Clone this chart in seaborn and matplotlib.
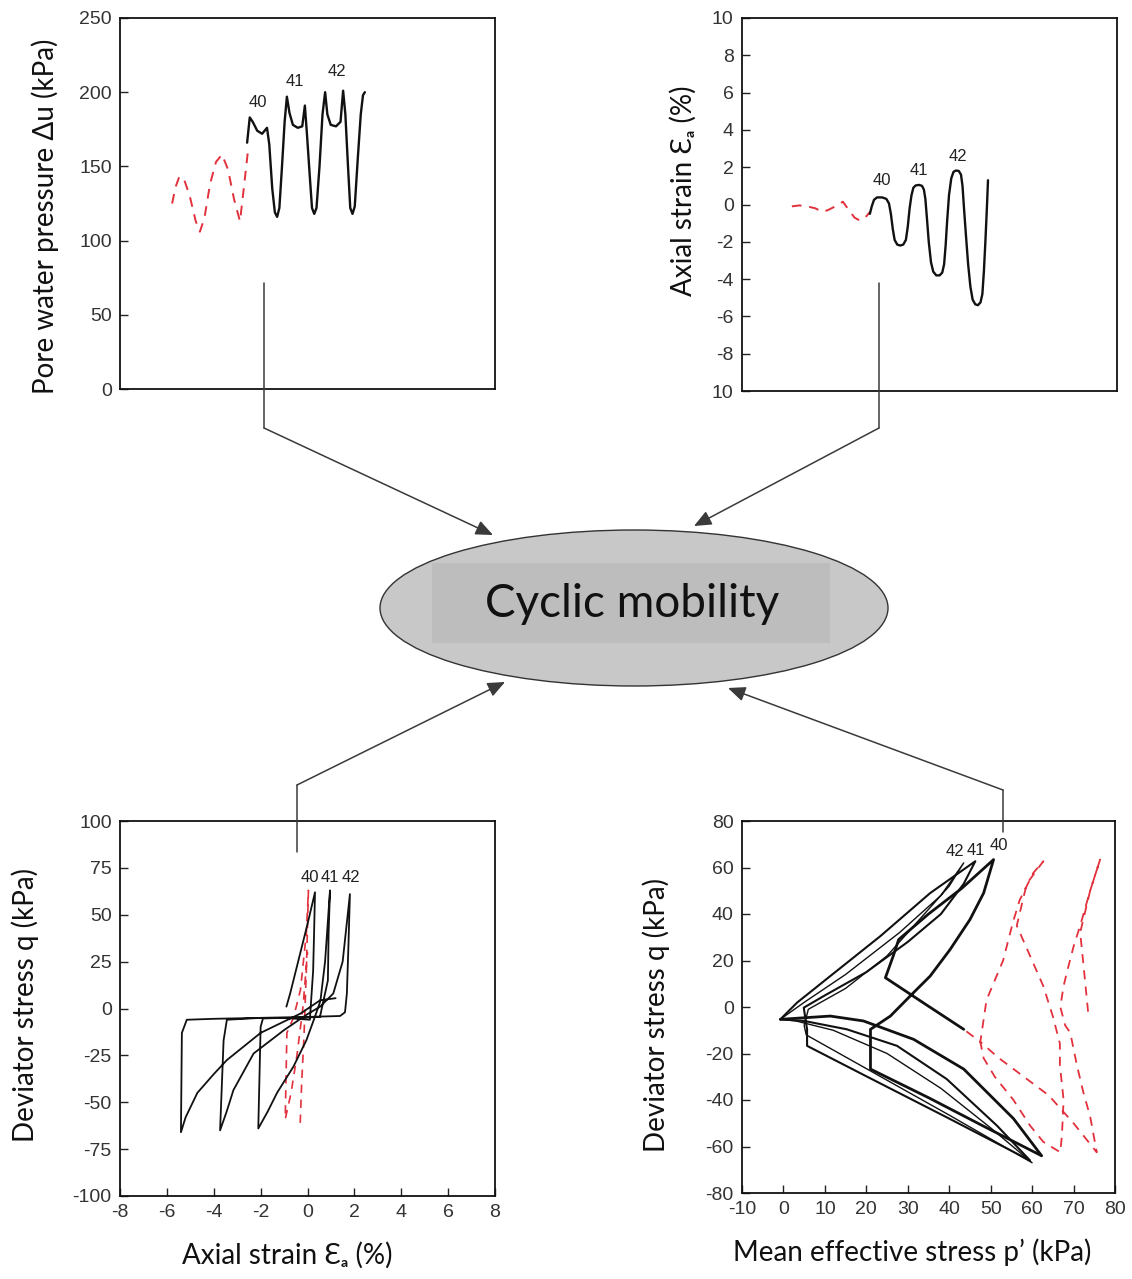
import matplotlib
matplotlib.use("Agg")
import matplotlib.pyplot as plt
import seaborn as sns
from matplotlib.patches import Ellipse, Rectangle, FancyArrowPatch
from matplotlib.lines import Line2D

# ---------------- data ----------------
# Top-left: pore water pressure vs. time (arbitrary time units, no axis shown)
tl_red_t = [13.9, 14.8, 15.8, 17.0, 18.6, 20.2, 21.3, 22.5, 24.0, 25.6, 27.2, 28.8, 30.4, 32.0, 33.0, 34.1]
tl_red_u = [125, 136, 143, 142, 130, 113, 106, 115, 138, 153, 158, 148, 128, 113, 135, 160]
tl_blk_t = [33.9, 34.6, 35.4, 36.6, 37.9, 39.2, 39.8, 40.6, 41.3, 41.9, 42.5, 43.2, 43.9, 44.5,
            45.2, 46.1, 47.4, 48.6, 49.3, 49.9, 50.7, 51.2, 51.8, 52.4, 53.2, 54.0, 54.7, 55.3,
            56.2, 57.6, 58.8, 59.5, 60.1, 60.8, 61.4, 62.0, 62.6, 63.4, 64.2, 64.8, 65.3]
tl_blk_u = [166, 183, 180, 174, 172, 176, 165, 135, 119, 116, 122, 150, 180, 197,
            186, 178, 176, 177, 191, 170, 140, 122, 118, 122, 150, 185, 200, 185,
            178, 177, 180, 201, 185, 150, 122, 118, 123, 155, 185, 198, 200]
cycle_labels = ["40", "41", "42"]
tl_label_t = [36.8, 46.7, 57.9]
tl_label_u = [193, 207, 214]
tl_yticks = [0, 50, 100, 150, 200, 250]

# Top-right: axial strain vs. time
tr_red_t = [13.3, 15.3, 17.3, 19.5, 21.5, 22.9, 24.9, 26.9, 28.5, 30.0, 31.3, 32.3, 33.3, 34.1]
tr_red_e = [-0.1, -0.05, -0.1, -0.2, -0.4, -0.3, -0.1, 0.15, -0.3, -0.7, -0.85, -0.8, -0.6, -0.4]
tr_blk_t = [34.1, 34.6, 35.2, 36.0, 37.4, 38.5, 39.2, 39.7, 40.2, 40.7, 41.4, 42.2, 43.0, 43.7,
            44.2, 44.7, 45.2, 45.7, 46.3, 47.2, 48.0, 48.5, 48.9, 49.3, 49.8, 50.4, 51.0, 51.8,
            52.7, 53.4, 53.9, 54.3, 54.7, 55.2, 55.8, 56.4, 57.0, 57.8, 58.4, 58.8, 59.2, 59.7,
            60.3, 60.9, 61.5, 62.2, 62.9, 63.6, 64.1, 64.5, 64.9, 65.3, 65.6]
tr_blk_e = [-0.5, -0.1, 0.25, 0.38, 0.38, 0.3, 0.05, -0.5, -1.3, -1.9, -2.15, -2.2, -2.15, -1.9,
            -1.2, -0.2, 0.5, 0.9, 1.02, 1.05, 1.0, 0.8, 0.3, -0.7, -2.0, -3.1, -3.6, -3.8,
            -3.8, -3.65, -3.2, -2.2, -0.9, 0.5, 1.4, 1.75, 1.82, 1.8, 1.6, 1.0, -0.2, -1.6,
            -3.2, -4.4, -5.1, -5.35, -5.4, -5.25, -4.8, -3.6, -2.0, -0.2, 1.3]
tr_label_t = [37.3, 47.2, 57.6]
tr_label_e = [1.3, 1.8, 2.6]
tr_yticks = [-10, -8, -6, -4, -2, 0, 2, 4, 6, 8, 10]
tr_ytick_labels = ["10", "-8", "-6", "-4", "-2", "0", "2", "4", "6", "8", "10"]

# Bottom-left: deviator stress vs. axial strain
bl_blk_e = [-0.9, -0.74, -0.4, 0.0, 0.32, 0.28, 0.24, 0.1, -1.0, -1.9, -2.0, -2.1, -1.7, -1.3,
            -0.6, -0.05, 0.3, 0.55, 0.75, 0.96, 0.9, 0.87, 0.53, -0.5, -2.0, -3.44, -3.58, -3.73,
            -3.45, -3.16, -2.3, -1.0, 0.0, 0.54, 1.1, 1.5, 1.81, 1.75, 1.68, 1.6, 1.39, 0.0,
            -2.0, -4.0, -5.15, -5.36, -5.4, -5.2, -4.7, -4.0, -3.44, -2.0, -0.3, 0.54, 1.2]
bl_blk_q = [1, 8, 25, 45, 62, 40, 20, -6, -5, -5.3, -9.8, -64, -55, -45,
            -31, -17, -5, 4, 25, 63, 40, 15, -4.5, -5, -5, -6, -17, -65,
            -55, -43.5, -24, -11.5, -3, 1, 8, 25, 61, 35, 8, -2, -4, -4.5,
            -5, -5.5, -6, -13, -66, -58, -45, -35, -27.5, -13, -2.7, 4.4, 5.5]
bl_red_e = [-0.31, -0.25, -0.15, -0.05, 0.04, -0.05, -0.3, -0.6, -0.88, -0.92, -0.95, -0.7, -0.45, -0.2, 0.0]
bl_red_q = [-61, -40, -15, 20, 63, 40, 10, -5, -13, -40, -59, -45, -25, 0, 30]
bl_label_e = [0.12, 0.97, 1.85]
bl_label_q = [70, 70, 70]

# Bottom-right: deviator stress vs. mean effective stress
br40_p = [43.5, 34.0, 24.6, 26.5, 27.8, 35.0, 43.0, 50.7, 48.3, 45.0, 40.2, 35.4, 31.4, 25.8,
          21.0, 21.0, 35.0, 48.0, 62.3, 55.5, 43.5, 31.4, 19.3, 11.3, -0.75]
br40_q = [-9.6, 1.5, 12.6, 22.0, 29.0, 40.0, 51.0, 63.4, 49.0, 37.6, 24.7, 13.3, 6.2, -3.9,
          -9.6, -26.7, -39.0, -51.0, -64.0, -48.0, -26.7, -13.9, -6.0, -3.9, -5.3]
br41_p = [-0.75, 3.3, 11.3, 23.4, 35.4, 46.3, 43.5, 38.0, 30.0, 20.0, 10.0, 4.9, 5.7, 5.7,
          20.0, 40.0, 59.5, 51.5, 39.4, 27.4, 15.3, 5.0, -0.75]
br41_q = [-5.3, 1.9, 13.3, 30.5, 49.0, 62.7, 53.0, 40.0, 28.0, 15.0, 5.0, -0.3, -9.6, -16.7,
          -29.8, -48.0, -66.0, -51.0, -31.0, -16.7, -9.6, -6.0, -5.3]
br42_p = [-0.75, 5.0, 15.0, 28.0, 38.0, 43.5, 40.0, 33.0, 25.0, 15.0, 6.0, 5.0, 5.5, 20.0,
          40.0, 60.0, 50.0, 38.0, 25.0, 12.0, 3.0, -0.75]
br42_q = [-5.3, 2.0, 14.0, 32.0, 48.0, 62.0, 52.0, 38.0, 22.0, 8.0, -1.0, -8.0, -12.0, -26.5,
          -46.5, -67.0, -52.0, -35.0, -20.0, -10.0, -6.0, -5.3]
br_red_p = [73.5, 72.4, 71.6, 74.0, 76.4, 74.0, 71.6, 70.0, 68.4, 67.6, 66.8, 68.0, 69.2, 70.8,
            72.4, 74.0, 75.6, 70.0, 64.0, 58.0, 52.0, 47.5, 49.0, 53.0, 55.3, 57.0, 60.3, 62.7,
            58.7, 56.3, 59.5, 62.7, 65.0, 66.7, 66.7, 67.6, 67.2, 66.8, 62.7, 59.5, 55.5, 51.0,
            48.3, 47.5, 43.5]
br_red_q = [-2.0, 18.0, 32.0, 50.0, 63.4, 50.0, 35.0, 26.0, 15.0, 9.0, 0.0, -8.0, -11.0, -25.0,
            -37.0, -47.0, -62.5, -50.0, -38.0, -30.0, -22.0, -15.0, 3.0, 20.0, 36.0, 46.0, 57.7, 62.7,
            53.0, 35.0, 22.0, 9.0, -4.0, -15.7, -25.0, -40.0, -55.0, -62.5, -58.0, -51.0, -40.0, -30.0,
            -22.0, -15.0, -9.6]
br_labels = ["42", "41", "40"]
br_label_p = [41.3, 46.4, 52.0]
br_label_q = [67.0, 67.5, 69.5]

# ---------------- styling ----------------
sns.set_theme(style="ticks")
plt.rcParams["font.family"] = ["Liberation Sans", "DejaVu Sans"]
plt.rcParams["axes.unicode_minus"] = False

BLACK = "#111111"
RED = "#e2313d"
DASH = (0, (5, 4))
LABEL_FONT = ["Lato", "DejaVu Sans"]

W, H = 1132, 1279
fig = plt.figure(figsize=(11.32, 12.79), dpi=100)


def fx(px):
    return px / W


def fy(py):
    return 1 - py / H


def add_ax(l, t, r, b):
    return fig.add_axes([fx(l), fy(b), (r - l) / W, (b - t) / H])


def style(ax, hide_x=False):
    for s in ax.spines.values():
        s.set_linewidth(1.3)
        s.set_color(BLACK)
        s.set_visible(True)
    ax.tick_params(direction="in", length=6, width=1.0, color="#222222",
                   labelsize=14, labelcolor="#333333", pad=6)
    ax.tick_params(top=False, right=False)
    if hide_x:
        ax.tick_params(axis="x", bottom=False, labelbottom=False)
    ax.set_xlabel("")
    ax.set_ylabel("")
    if ax.get_legend():
        ax.get_legend().remove()


# ---- top-left ----
ax1 = add_ax(120, 18, 495, 389)
sns.lineplot(x=tl_red_t, y=tl_red_u, sort=False, estimator=None, color=RED,
             linewidth=1.4, linestyle=DASH, ax=ax1)
sns.lineplot(x=tl_blk_t, y=tl_blk_u, sort=False, estimator=None, color=BLACK,
             linewidth=1.7, ax=ax1)
for lab, t, u in zip(cycle_labels, tl_label_t, tl_label_u):
    ax1.text(t, u, lab, ha="center", va="center", fontsize=12, color="#222222")
ax1.set_xlim(0, 100)
ax1.set_ylim(0, 250)
ax1.set_yticks(tl_yticks)
style(ax1, hide_x=True)

# ---- top-right ----
ax2 = add_ax(742, 18, 1117, 391)
sns.lineplot(x=tr_red_t, y=tr_red_e, sort=False, estimator=None, color=RED,
             linewidth=1.4, linestyle=DASH, ax=ax2)
sns.lineplot(x=tr_blk_t, y=tr_blk_e, sort=False, estimator=None, color=BLACK,
             linewidth=1.7, ax=ax2)
for lab, t, e in zip(cycle_labels, tr_label_t, tr_label_e):
    ax2.text(t, e, lab, ha="center", va="center", fontsize=12, color="#222222")
ax2.set_xlim(0, 100)
ax2.set_ylim(-10, 10)
ax2.set_yticks(tr_yticks)
ax2.set_yticklabels(tr_ytick_labels)
style(ax2, hide_x=True)

# ---- bottom-left ----
ax3 = add_ax(120, 821, 495, 1196)
sns.lineplot(x=bl_red_e, y=bl_red_q, sort=False, estimator=None, color=RED,
             linewidth=1.2, linestyle=DASH, ax=ax3)
sns.lineplot(x=bl_blk_e, y=bl_blk_q, sort=False, estimator=None, color=BLACK,
             linewidth=1.3, ax=ax3)
for lab, e, q in zip(cycle_labels, bl_label_e, bl_label_q):
    ax3.text(e, q, lab, ha="center", va="center", fontsize=12, color="#222222")
ax3.set_xlim(-8, 8)
ax3.set_ylim(-100, 100)
ax3.set_xticks(list(range(-8, 9, 2)))
ax3.set_yticks(list(range(-100, 101, 25)))
style(ax3)

# ---- bottom-right ----
ax4 = add_ax(742, 821, 1115, 1193)
sns.lineplot(x=br_red_p, y=br_red_q, sort=False, estimator=None, color=RED,
             linewidth=1.3, linestyle=DASH, ax=ax4)
sns.lineplot(x=br42_p, y=br42_q, sort=False, estimator=None, color=BLACK,
             linewidth=1.0, ax=ax4)
sns.lineplot(x=br41_p, y=br41_q, sort=False, estimator=None, color=BLACK,
             linewidth=1.5, ax=ax4)
sns.lineplot(x=br40_p, y=br40_q, sort=False, estimator=None, color=BLACK,
             linewidth=2.0, ax=ax4)
for lab, p, q in zip(br_labels, br_label_p, br_label_q):
    ax4.text(p, q, lab, ha="center", va="center", fontsize=12, color="#222222")
ax4.set_xlim(-10, 80)
ax4.set_ylim(-80, 80)
ax4.set_xticks(list(range(-10, 81, 10)))
ax4.set_yticks(list(range(-80, 81, 20)))
style(ax4)

# ---- axis titles ----
lab_kw = dict(fontsize=20, color="#111111", family=LABEL_FONT)
fig.text(fx(45), fy(216), "Pore water pressure Δu (kPa)", rotation=90, ha="center", va="center", **lab_kw)
fig.text(fx(683), fy(191), "Axial strain Ɛₐ (%)", rotation=90, ha="center", va="center", **lab_kw)
fig.text(fx(25), fy(1005), "Deviator stress q (kPa)", rotation=90, ha="center", va="center", **lab_kw)
fig.text(fx(287), fy(1255), "Axial strain Ɛₐ (%)", ha="center", va="center", **lab_kw)
fig.text(fx(656), fy(1015), "Deviator stress q (kPa)", rotation=90, ha="center", va="center", **lab_kw)
fig.text(fx(912), fy(1252), "Mean effective stress p’ (kPa)", ha="center", va="center", **lab_kw)

# ---- central ellipse ----
fig.add_artist(Ellipse((fx(634), fy(608)), width=508 / W, height=156 / H,
                       transform=fig.transFigure, facecolor="#c8c8c8",
                       edgecolor="#333333", linewidth=1.0, zorder=3))
fig.add_artist(Rectangle((fx(432), fy(643)), (830 - 432) / W, (643 - 563) / H,
                         transform=fig.transFigure, facecolor="#bdbdbd",
                         edgecolor="none", zorder=3.1))
fig.text(fx(632), fy(604), "Cyclic mobility", ha="center", va="center",
         fontsize=33, color="#111111", family=LABEL_FONT, zorder=4)

# ---- connector arrows ----
ARROW_COLOR = "#3a3a3a"


def connector(p0, p1, p2):
    fig.add_artist(Line2D([fx(p0[0]), fx(p1[0])], [fy(p0[1]), fy(p1[1])],
                          transform=fig.transFigure, color=ARROW_COLOR, lw=1.1, zorder=5))
    fig.add_artist(FancyArrowPatch((fx(p1[0]), fy(p1[1])), (fx(p2[0]), fy(p2[1])),
                                   transform=fig.transFigure,
                                   arrowstyle="-|>,head_length=0.7,head_width=0.3",
                                   mutation_scale=15, color=ARROW_COLOR, lw=1.1,
                                   shrinkA=0, shrinkB=0, zorder=5))


connector((264, 283), (264, 428), (493, 535))
connector((879, 283), (879, 428), (694, 526))
connector((297, 852), (297, 785), (505, 682))
connector((1003, 832), (1003, 790), (728, 688))

fig.savefig("out.png", dpi=100, facecolor="white")
